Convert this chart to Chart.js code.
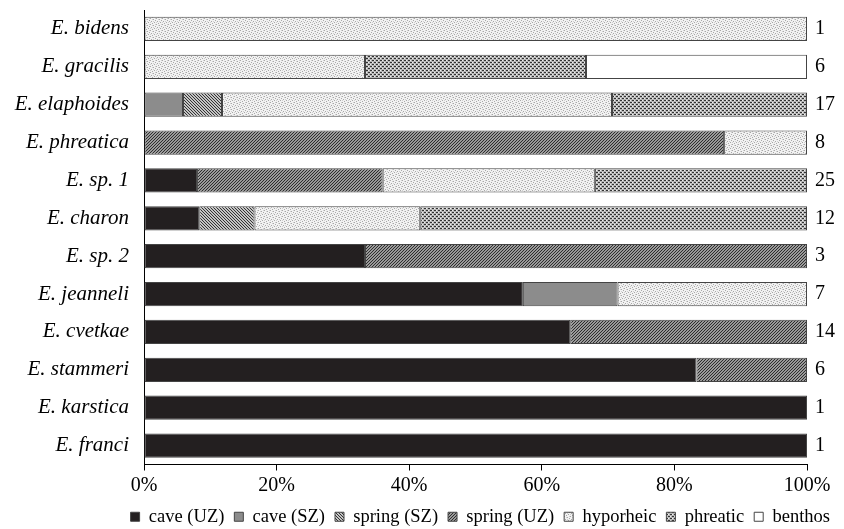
<!DOCTYPE html>
<html>
<head>
<meta charset="utf-8">
<script src="https://cdn.jsdelivr.net/npm/chart.js@4.4.1/dist/chart.umd.min.js"></script>
<style>
  html, body { margin: 0; padding: 0; background: #fff; }
  #wrap { width: 844px; height: 529px; }
</style>
</head>
<body>
<div id="wrap"><canvas id="chartCanvas" width="844" height="529"></canvas></div>
<script>
// species, top to bottom
const species = ['E. bidens', 'E. gracilis', 'E. elaphoides', 'E. phreatica', 'E. sp. 1', 'E. charon',
    'E. sp. 2', 'E. jeanneli', 'E. cvetkae', 'E. stammeri', 'E. karstica', 'E. franci'];

const caveUZ    = [0, 0, 0, 0, 2, 1, 1, 4, 9, 5, 1, 1];
const caveSZ    = [0, 0, 1, 0, 0, 0, 0, 1, 0, 0, 0, 0];
const springSZ  = [0, 0, 1, 0, 0, 1, 0, 0, 0, 0, 0, 0];
const springUZ  = [0, 0, 0, 7, 7, 0, 2, 0, 5, 1, 0, 0];
const hyporheic = [1, 2, 10, 1, 8, 3, 0, 2, 0, 0, 0, 0];
const phreatic  = [0, 2, 5, 0, 8, 7, 0, 0, 0, 0, 0, 0];
const benthos   = [0, 2, 0, 0, 0, 0, 0, 0, 0, 0, 0, 0];
const totals    = [1, 6, 17, 8, 25, 12, 3, 7, 14, 6, 1, 1];

const xTicks = [0, 20, 40, 60, 80, 100];

function pct(arr) {
    return arr.map((v, i) => v / totals[i] * 100);
}

// small tiles used as fill patterns
function makePattern(size, bg, draw) {
    const c = document.createElement('canvas');
    c.width = size;
    c.height = size;
    const x = c.getContext('2d');
    x.fillStyle = bg;
    x.fillRect(0, 0, size, size);
    draw(x, size);
    return x.createPattern(c, 'repeat');
}

const patSpringSZ = makePattern(3, '#c4c4c4', function(x, s) {
    x.fillStyle = '#333333';
    for (let i = 0; i < s; i++) x.fillRect(i, i, 1, 1);
});
const patSpringUZ = makePattern(3, '#9a9a9a', function(x, s) {
    x.fillStyle = '#2e2e2e';
    for (let i = 0; i < s; i++) x.fillRect(s - 1 - i, i, 1, 1);
});
const patHyporheic = makePattern(6, '#f2f2f2', function(x) {
    x.fillStyle = '#a8a8a8';
    [[0, 0], [3, 1], [1, 3], [4, 4], [2, 5], [5, 2]].forEach(p => x.fillRect(p[0], p[1], 1, 1));
    x.fillStyle = '#d0d0d0';
    [[2, 1], [5, 0], [0, 4], [3, 3]].forEach(p => x.fillRect(p[0], p[1], 1, 1));
});
const patPhreatic = makePattern(4, '#b8b8b8', function(x) {
    x.fillStyle = '#333333';
    x.fillRect(0, 0, 2, 1);
    x.fillRect(2, 2, 2, 1);
    x.fillStyle = '#f0f0f0';
    x.fillRect(2, 0, 1, 1);
    x.fillRect(0, 2, 1, 1);
});

const serif = "'Liberation Serif', 'Times New Roman', serif";

function ds(label, arr, fill) {
    return {
        label: label,
        data: pct(arr),
        backgroundColor: fill,
        borderColor: '#444444',
        borderWidth: 1,
        borderSkipped: false,
        barPercentage: 0.64,
        categoryPercentage: 1.0
    };
}

// fix axis sizes so the plot area sits where the original has it
function fixSize(size, horizontal) {
    return function(axis) {
        axis.paddingTop = 0;
        axis.paddingBottom = 0;
        axis.paddingLeft = 0;
        axis.paddingRight = 0;
        if (horizontal) axis.height = size;
        else axis.width = size;
    };
}

const ctx = document.getElementById('chartCanvas').getContext('2d');
new Chart(ctx, {
    type: 'bar',
    data: {
        labels: species,
        datasets: [
            ds('cave (UZ)', caveUZ, '#231f20'),
            ds('cave (SZ)', caveSZ, '#8c8c8c'),
            ds('spring (SZ)', springSZ, patSpringSZ),
            ds('spring (UZ)', springUZ, patSpringUZ),
            ds('hyporheic', hyporheic, patHyporheic),
            ds('phreatic', phreatic, patPhreatic),
            ds('benthos', benthos, '#ffffff')
        ]
    },
    options: {
        indexAxis: 'y',
        responsive: false,
        animation: false,
        layout: {
            padding: { top: 10, right: 4, left: 0, bottom: -7 }
        },
        scales: {
            x: {
                stacked: true,
                min: 0,
                max: 100,
                afterFit: fixSize(33, true),
                afterBuildTicks: function(axis) {
                    axis.ticks = xTicks.map(v => ({ value: v }));
                },
                ticks: {
                    callback: v => v + '%',
                    color: '#000',
                    padding: 3,
                    maxRotation: 0,
                    font: { family: serif, size: 20 }
                },
                grid: {
                    drawOnChartArea: false,
                    drawTicks: true,
                    tickLength: 6,
                    color: '#000'
                },
                border: { color: '#000', width: 1 }
            },
            y: {
                stacked: true,
                afterFit: fixSize(144, false),
                ticks: {
                    color: '#000',
                    padding: 15,
                    font: { family: serif, size: 21, style: 'italic' }
                },
                grid: { drawOnChartArea: false, drawTicks: false },
                border: { color: '#000', width: 1 }
            },
            y2: {
                type: 'category',
                position: 'right',
                labels: totals.map(String),
                offset: true,
                afterFit: fixSize(33, false),
                ticks: {
                    color: '#000',
                    padding: 8,
                    font: { family: serif, size: 20 }
                },
                grid: { display: false, drawTicks: false },
                border: { display: false }
            }
        },
        plugins: {
            legend: {
                position: 'bottom',
                align: 'end',
                labels: {
                    color: '#000',
                    boxWidth: 9,
                    boxHeight: 9,
                    padding: 10,
                    font: { family: serif, size: 18.5 }
                }
            },
            tooltip: { enabled: false }
        }
    }
});
</script>
</body>
</html>
